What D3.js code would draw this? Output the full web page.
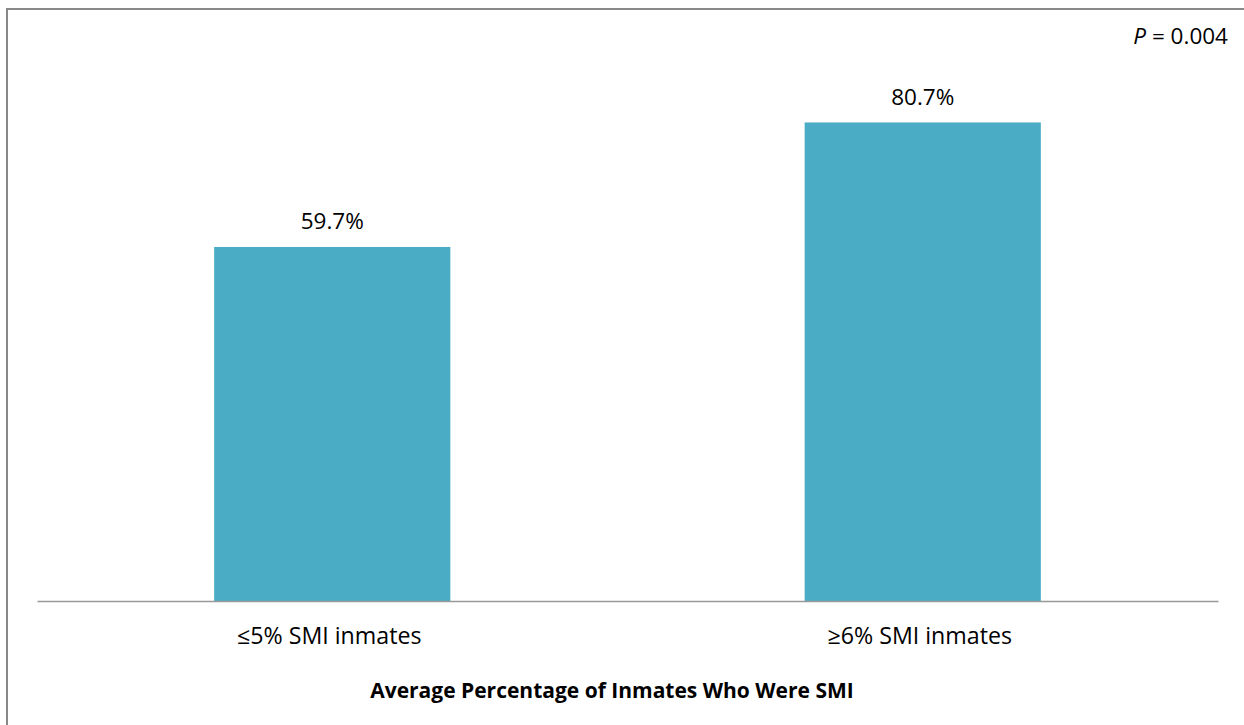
<!DOCTYPE html>
<html>
<head>
<meta charset="utf-8">
<script src="https://cdn.jsdelivr.net/npm/d3@7"></script>
<style>
  html, body { margin: 0; padding: 0; background: #fff; }
  svg { display: block; }
  text { font-family: "Open Sans", "Noto Sans", sans-serif; fill: #000; }
</style>
</head>
<body>
<svg id="chart" width="1244" height="725"></svg>
<script>
const categories = ["≤5% SMI inmates", "≥6% SMI inmates"];
const values = [59.7, 80.7];
const valueLabels = ["59.7%", "80.7%"];
const axisTitle = "Average Percentage of Inmates Who Were SMI";
const pValue = "0.004";

const W = 1244, H = 725;
const margin = { left: 37, right: 26, top: 8, bottom: 124 };
const svg = d3.select("#chart");

// frame (top + left only visible)
svg.append("line").attr("x1", 7).attr("x2", W).attr("y1", 9).attr("y2", 9)
  .attr("stroke", "#898989").attr("stroke-width", 2);
svg.append("line").attr("x1", 7).attr("x2", 7).attr("y1", 8).attr("y2", H)
  .attr("stroke", "#898989").attr("stroke-width", 2);

const x = d3.scaleBand().domain(categories)
  .range([margin.left, W - margin.right]).padding(0);
const y = d3.scaleLinear().domain([0, 100]).range([H - margin.bottom, margin.top]);

const barW = x.bandwidth() * 0.4;

svg.append("g").selectAll("rect").data(categories).join("rect")
  .attr("x", d => x(d) + (x.bandwidth() - barW) / 2)
  .attr("y", (d, i) => y(values[i]))
  .attr("width", barW)
  .attr("height", (d, i) => y(0) - y(values[i]))
  .attr("fill", "#4BACC6");

svg.append("g").selectAll("text").data(categories).join("text")
  .attr("x", d => x(d) + x.bandwidth() / 2)
  .attr("y", (d, i) => y(values[i]) - 17.5)
  .attr("text-anchor", "middle")
  .attr("font-size", 22.5)
  .text((d, i) => valueLabels[i]);

// x axis
const xAxis = d3.axisBottom(x).tickSize(0).tickPadding(0);
const gx = svg.append("g").attr("transform", `translate(0,${y(0)})`).call(xAxis);
gx.select(".domain").attr("stroke", "#999").attr("stroke-width", 1.5);
gx.selectAll(".tick text")
  .attr("dy", null)
  .attr("x", -3)
  .attr("y", 42.5)
  .attr("font-size", 23.2)
  .attr("font-family", "\"Open Sans\", \"Noto Sans\", sans-serif")
  .attr("fill", "#000");

svg.append("text")
  .attr("x", 612)
  .attr("y", 698)
  .attr("text-anchor", "middle")
  .attr("font-size", 21)
  .attr("font-weight", "bold")
  .text(axisTitle);

const pt = svg.append("text")
  .attr("x", 1228)
  .attr("y", 43.5)
  .attr("text-anchor", "end")
  .attr("font-size", 22.5);
pt.append("tspan").attr("font-style", "italic").text("P");
pt.append("tspan").text(" = " + pValue);
</script>
</body>
</html>
